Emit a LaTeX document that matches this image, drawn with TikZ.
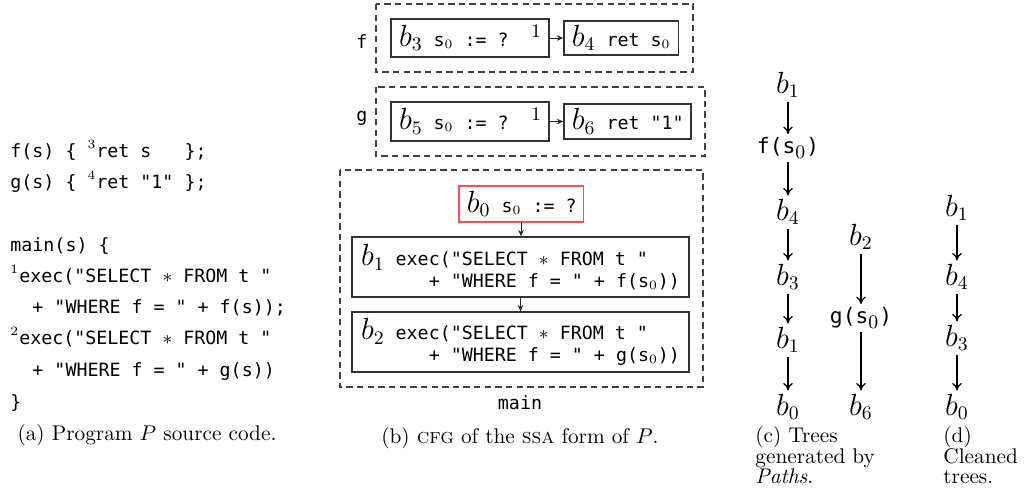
\documentclass[tikz,border=0pt]{standalone}
\usepackage{amsmath}
\usepackage{fontspec}
\setmonofont{DejaVu Sans Mono}
\usepackage{tikz}
\usetikzlibrary{arrows.meta, positioning}

\newcommand{\codefont}{\fontsize{8.6}{10.3}\selectfont\ttfamily}
\newcommand{\treefont}{\fontsize{10}{12}\selectfont\ttfamily}
\newcommand{\bsym}[1]{{\fontsize{13.5}{14}\selectfont$b_{#1}$}}

\begin{document}
\begin{tikzpicture}[x=0.47pt, y=-0.47pt,
    blk/.style={draw=black!80, line width=0.6pt, inner xsep=3.8pt, inner ysep=0pt, font=\codefont},
    grp/.style={draw=black!75, line width=0.6pt, dash pattern=on 3pt off 2pt},
    flow/.style={-{Stealth[length=3pt,width=2.6pt]}, line width=0.4pt, black!85},
    tree/.style={-{To[length=3.5pt,width=4.5pt]}, line width=0.6pt},
    code/.style={font=\codefont, inner sep=0pt, anchor=base west},
    tnode/.style={font=\fontsize{13.5}{14}\selectfont, inner sep=1.5pt},
    captxt/.style={font=\fontsize{10}{9.7}\selectfont, inner sep=0pt, align=left}]
    \useasboundingbox (0,0) rectangle (1024,492);

    % (a) source code
    \foreach \y/\txt [count=\k] in {157/{f(s) \{ $^3$ret s\ \ \ \};},
        188/{g(s) \{ $^4$ret "1" \};},
        251/{main(s) \{},
        282/{$^1$exec("SELECT $\ast$ FROM t "},
        313/{\ \ + "WHERE f = " + f(s));},
        344/{$^2$exec("SELECT $\ast$ FROM t "},
        376/{\ \ + "WHERE f = " + g(s))},
        408/{\}}} {
        \node[code] (l\k) at (10,\y) {\txt};
    }
    \node[captxt] (capa) at (147,435) {(a) Program $P$ source code.};

    % (b) CFG
    \draw[grp] (376,4) rectangle (693,72);
    \draw[grp] (376,87) rectangle (705,156);
    \draw[grp] (340,170) rectangle (703,387);
    \node[code, anchor=center] (nf) at (362,42) {f};
    \node[code, anchor=center] (ng) at (362,118) {g};
    \node[code, anchor=center] (nmain) at (520,403) {main};

    \node[blk, minimum height=17.9pt] (b3) at (470,38) {\makebox[66.7pt][l]{\bsym{3} s$_0$ := ?}};
    \node[blk, minimum height=16pt] (b4) at (621,38) {\makebox[46.1pt][l]{\bsym{4} ret s$_0$}};
    \node[blk, minimum height=18.3pt] (b5) at (470,121.5) {\makebox[66.7pt][l]{\bsym{5} s$_0$ := ?}};
    \node[blk, minimum height=16.5pt] (b6) at (627.5,121.5) {\makebox[52.2pt][l]{\bsym{6} ret "1"}};
    \node[font=\fontsize{9}{9}\selectfont, inner sep=0pt] (e34) at (536,31) {1};
    \node[font=\fontsize{9}{9}\selectfont, inner sep=0pt] (e56) at (536,114) {1};
    \draw[flow] (b3) -- (b4);
    \draw[flow] (b5) -- (b6);

    \node[blk, draw=red!70, minimum height=16.9pt] (b0) at (521,204) {\makebox[50.8pt][l]{\bsym{0} s$_0$ := ?}};
    \node[blk, align=left, minimum width=158.4pt, minimum height=28.2pt] (b1) at (520.5,267)
        {\bsym{1} exec("SELECT $\ast$ FROM t "\\\hphantom{\bsym{1} }\ \ \ + "WHERE f = " + f(s$_0$))};
    \node[blk, align=left, minimum width=158.4pt, minimum height=28.2pt] (b2) at (520.5,342)
        {\bsym{2} exec("SELECT $\ast$ FROM t "\\\hphantom{\bsym{2} }\ \ \ + "WHERE f = " + g(s$_0$))};
    \draw[flow] (b0.south) -- (b0.south |- b1.north);
    \draw[flow] (b1.south) -- (b1.south |- b2.north);
    \node[captxt] (capb) at (520,438) {(b) \textsc{cfg} of the \textsc{ssa} form of $P$.};

    % (c) trees generated by Paths
    \node[tnode] (c1) at (788,85) {$b_1$};
    \node[tnode] (cf) at (788,148) {{\treefont f(s}$_0${\treefont )}};
    \node[tnode] (c4) at (788,212) {$b_4$};
    \node[tnode] (c3) at (788,277) {$b_3$};
    \node[tnode] (c1b) at (788,340) {$b_1$};
    \node[tnode] (c0) at (788,407) {$b_0$};
    \node[tnode] (c2) at (861,237) {$b_2$};
    \node[tnode] (cg) at (861,318) {{\treefont g(s}$_0${\treefont )}};
    \node[tnode] (c6) at (861,407) {$b_6$};
    \node[captxt, anchor=north west] (capc) at (755,426) {(c) Trees\\generated by\\\emph{Paths}.};

    % (d) cleaned trees
    \node[tnode] (d1) at (957,208) {$b_1$};
    \node[tnode] (d4) at (957,277) {$b_4$};
    \node[tnode] (d3) at (957,338) {$b_3$};
    \node[tnode] (d0) at (957,407) {$b_0$};
    \node[captxt, anchor=north west] (capd) at (943,426) {(d)\\Cleaned\\trees.};

    \foreach \a/\b in {c1/cf, cf/c4, c4/c3, c3/c1b, c1b/c0, c2/cg, cg/c6, d1/d4, d4/d3, d3/d0}
        \draw[tree] (\a) -- (\b);
\end{tikzpicture}
\end{document}
